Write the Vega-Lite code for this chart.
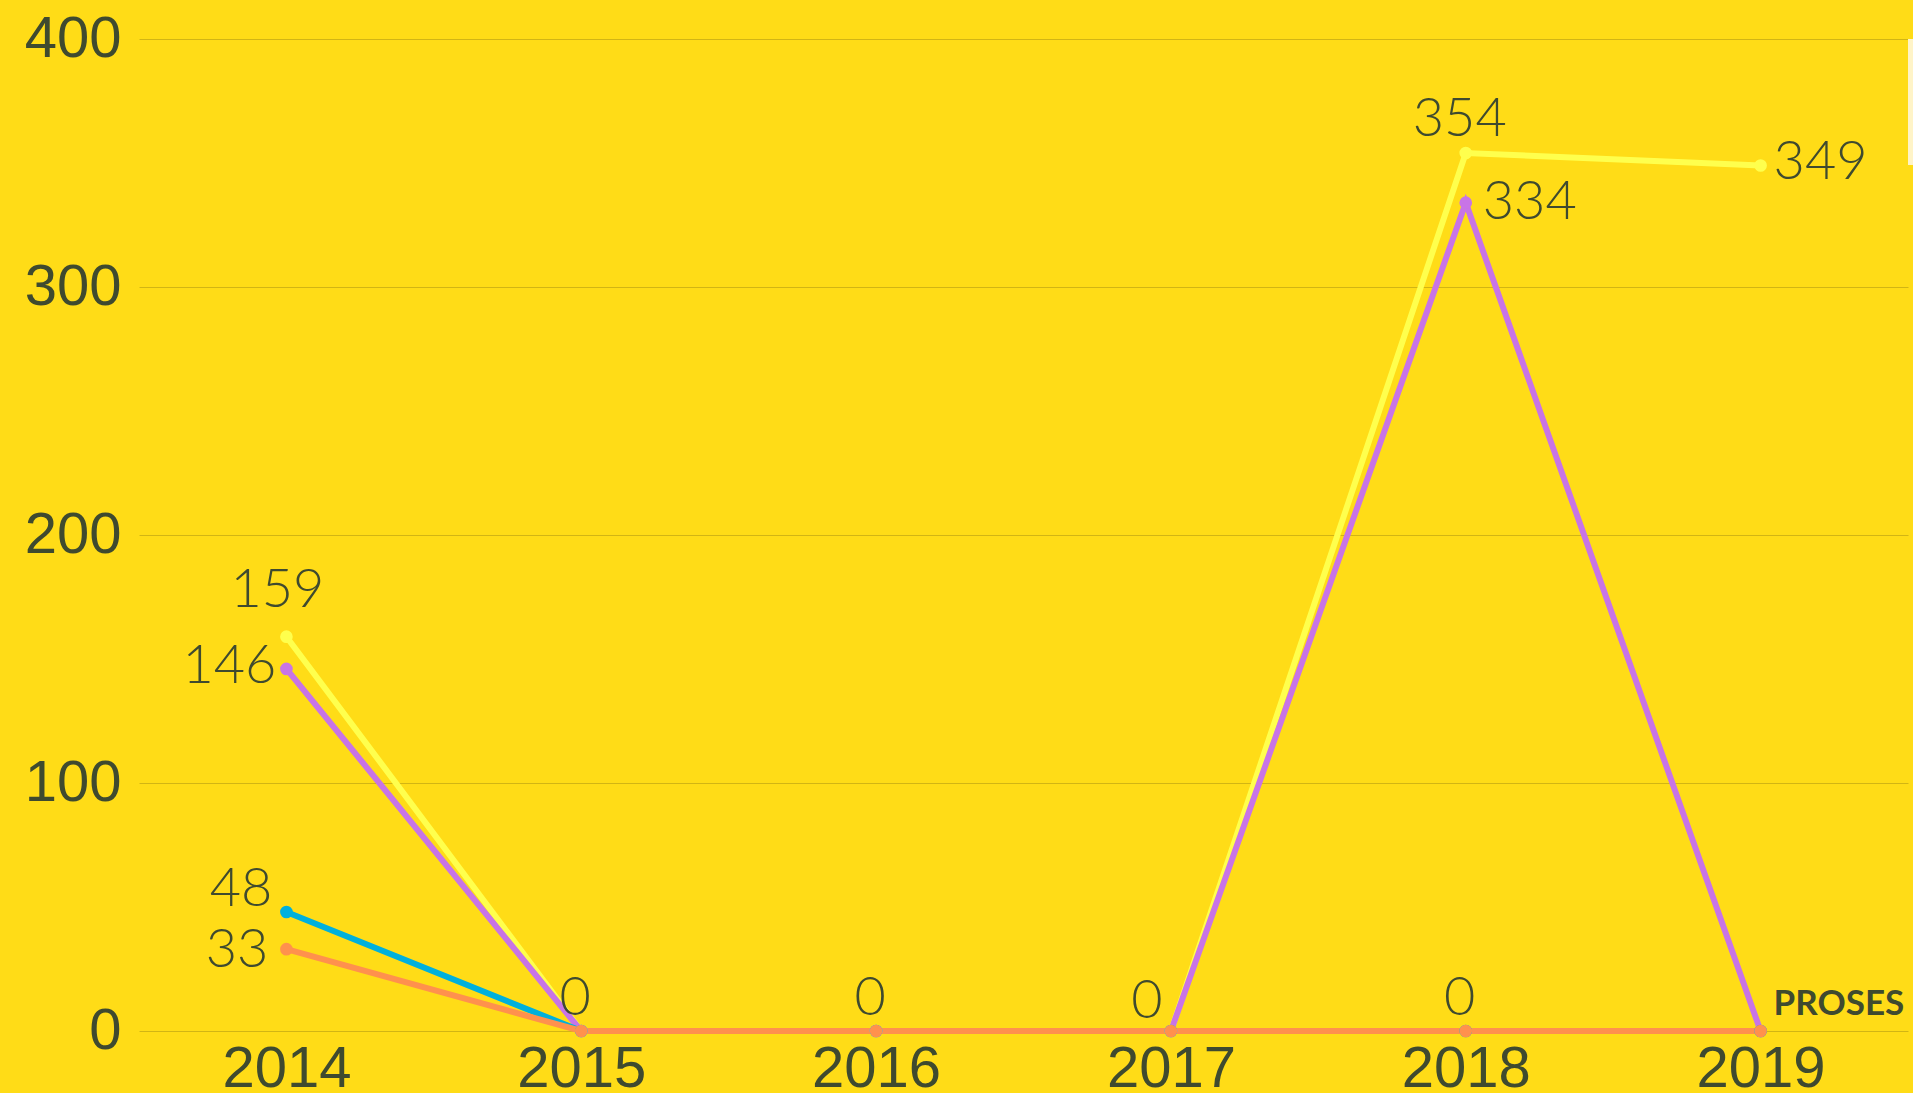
{
  "$schema": "https://vega.github.io/schema/vega-lite/v6.json",
  "autosize": "none",
  "width": 1769,
  "height": 992,
  "padding": {"left": 139, "top": 39, "right": 5, "bottom": 62},
  "background": "#FFDC17",
  "config": {
    "view": {"stroke": null},
    "axis": {"labelColor": "#3F4A2F", "labelFont": "Liberation Sans", "labelFontSize": 58, "domain": false, "ticks": false, "title": null}
  },
  "data": {
    "values": [
      {"year": "2014", "series": "TOTAL", "value": 159},
      {"year": "2015", "series": "TOTAL", "value": 0},
      {"year": "2016", "series": "TOTAL", "value": 0},
      {"year": "2017", "series": "TOTAL", "value": 0},
      {"year": "2018", "series": "TOTAL", "value": 354},
      {"year": "2019", "series": "TOTAL", "value": 349},
      {"year": "2014", "series": "SELESAI", "value": 146},
      {"year": "2015", "series": "SELESAI", "value": 0},
      {"year": "2016", "series": "SELESAI", "value": 0},
      {"year": "2017", "series": "SELESAI", "value": 0},
      {"year": "2018", "series": "SELESAI", "value": 334},
      {"year": "2019", "series": "SELESAI", "value": 0},
      {"year": "2014", "series": "DITOLAK", "value": 48},
      {"year": "2015", "series": "DITOLAK", "value": 0},
      {"year": "2016", "series": "DITOLAK", "value": 0},
      {"year": "2017", "series": "DITOLAK", "value": 0},
      {"year": "2018", "series": "DITOLAK", "value": 0},
      {"year": "2019", "series": "DITOLAK", "value": 0},
      {"year": "2014", "series": "PROSES", "value": 33},
      {"year": "2015", "series": "PROSES", "value": 0},
      {"year": "2016", "series": "PROSES", "value": 0},
      {"year": "2017", "series": "PROSES", "value": 0},
      {"year": "2018", "series": "PROSES", "value": 0},
      {"year": "2019", "series": "PROSES", "value": 0}
    ]
  },
  "encoding": {
    "x": {"field": "year", "type": "ordinal", "sort": null, "scale": {"type": "point", "padding": 0.5},
      "axis": {"labelAngle": 0, "labelPadding": 9, "grid": false}},
    "y": {"field": "value", "type": "quantitative", "scale": {"domain": [0, 400], "nice": false},
      "axis": {"values": [0, 100, 200, 300, 400], "labelOverlap": false, "labelPadding": 18, "gridColor": "#D2B514", "gridWidth": 1.2}}
  },
  "layer": [
    {
      "mark": {"type": "line", "strokeWidth": 6, "point": {"size": 160, "filled": true, "opacity": 1}},
      "encoding": {
        "color": {"field": "series", "type": "nominal",
          "scale": {"domain": ["TOTAL", "SELESAI", "DITOLAK", "PROSES"], "range": ["#FFFF4D", "#C874E6", "#00B0DC", "#FF914D"]},
          "legend": {"orient": "right", "offset": 0, "fillColor": "#FFF4C8", "padding": 12, "title": null, "labelFontSize": 24, "symbolSize": 200}},
        "order": {"value": 0}
      }
    },
    {
      "transform": [{"filter": "datum.series == 'TOTAL' && datum.year == '2014'"}],
      "mark": {"type": "text", "font": "Lato", "fontWeight": 300, "fontSize": 54, "color": "#3F4A2F", "align": "center", "baseline": "alphabetic", "dx": -9, "dy": -30},
      "encoding": {"text": {"field": "value"}}
    },
    {
      "transform": [{"filter": "datum.series == 'SELESAI' && datum.year == '2014'"}],
      "mark": {"type": "text", "font": "Lato", "fontWeight": 300, "fontSize": 54, "color": "#3F4A2F", "align": "right", "baseline": "middle", "dx": -10, "dy": -2},
      "encoding": {"text": {"field": "value"}}
    },
    {
      "transform": [{"filter": "datum.series == 'DITOLAK' && datum.year == '2014'"}],
      "mark": {"type": "text", "font": "Lato", "fontWeight": 300, "fontSize": 54, "color": "#3F4A2F", "align": "right", "baseline": "alphabetic", "dx": -14, "dy": -6},
      "encoding": {"text": {"field": "value"}}
    },
    {
      "transform": [{"filter": "datum.series == 'PROSES' && datum.year == '2014'"}],
      "mark": {"type": "text", "font": "Lato", "fontWeight": 300, "fontSize": 54, "color": "#3F4A2F", "align": "right", "baseline": "middle", "dx": -18, "dy": 2},
      "encoding": {"text": {"field": "value"}}
    },
    {
      "transform": [{"filter": "datum.series == 'PROSES' && (datum.year == '2015' || datum.year == '2016' || datum.year == '2018')"}],
      "mark": {"type": "text", "font": "Lato", "fontWeight": 300, "fontSize": 54, "color": "#3F4A2F", "align": "center", "baseline": "alphabetic", "dx": -6, "dy": -16},
      "encoding": {"text": {"field": "value"}}
    },
    {
      "transform": [{"filter": "datum.series == 'PROSES' && datum.year == '2017'"}],
      "mark": {"type": "text", "font": "Lato", "fontWeight": 300, "fontSize": 54, "color": "#3F4A2F", "align": "center", "baseline": "alphabetic", "dx": -24, "dy": -13},
      "encoding": {"text": {"field": "value"}}
    },
    {
      "transform": [{"filter": "datum.series == 'TOTAL' && datum.year == '2018'"}],
      "mark": {"type": "text", "font": "Lato", "fontWeight": 300, "fontSize": 54, "color": "#3F4A2F", "align": "center", "baseline": "alphabetic", "dx": -6, "dy": -17},
      "encoding": {"text": {"field": "value"}}
    },
    {
      "transform": [{"filter": "datum.series == 'SELESAI' && datum.year == '2018'"}],
      "mark": {"type": "text", "font": "Lato", "fontWeight": 300, "fontSize": 54, "color": "#3F4A2F", "align": "left", "baseline": "middle", "dx": 17, "dy": 0},
      "encoding": {"text": {"field": "value"}}
    },
    {
      "transform": [{"filter": "datum.series == 'TOTAL' && datum.year == '2019'"}],
      "mark": {"type": "text", "font": "Lato", "fontWeight": 300, "fontSize": 54, "color": "#3F4A2F", "align": "left", "baseline": "middle", "dx": 13, "dy": -2},
      "encoding": {"text": {"field": "value"}}
    },
    {
      "transform": [{"filter": "datum.series == 'PROSES' && datum.year == '2019'"}],
      "mark": {"type": "text", "font": "Lato", "fontWeight": "bold", "fontSize": 35, "color": "#3F4A2F", "align": "left", "baseline": "alphabetic", "dx": 13, "dy": -16},
      "encoding": {"text": {"field": "series"}}
    }
  ]
}
